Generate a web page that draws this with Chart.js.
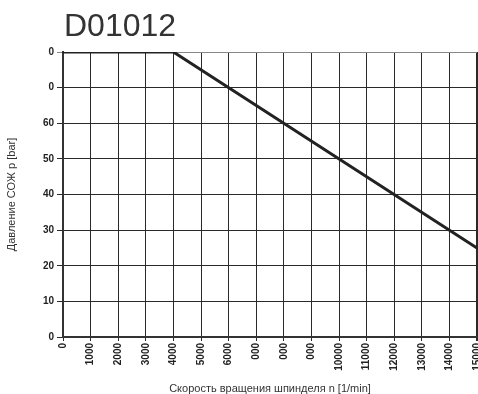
<!DOCTYPE html>
<html>
<head>
<meta charset="utf-8">
<script src="https://cdn.jsdelivr.net/npm/chart.js@4"></script>
<style>
  html, body { margin: 0; padding: 0; background: #fff; }
  #wrap { width: 478px; height: 394px; }
</style>
</head>
<body>
<div id="wrap"><canvas id="Chart1" width="478" height="394"></canvas></div>
<script>
// spindle speed (1/min) and coolant pressure (bar)
const speeds = [0, 4000, 15000];
const pressures = [80, 80, 25];

// tick labels as printed on the sheet
const xTickLabels = ['0', '1000', '2000', '3000', '4000', '5000', '6000', '000', '000', '000',
  '10000', '11000', '12000', '13000', '14000', '15000'];
const yTickLabels = ['0', '10', '20', '30', '40', '50', '60', '0', '0'];

const titleText = 'D01012';
const xTitle = 'Скорость вращения шпинделя n [1/min]';
const yTitle = 'Давление СОЖ p [bar]';

document.addEventListener("DOMContentLoaded", function () {
  const points = speeds.map((s, i) => ({ x: s, y: pressures[i] }));

  // big heading above the plot, left aligned with the plot area
  const headingPlugin = {
    id: 'heading',
    afterDraw(chart) {
      const ctx = chart.ctx;
      ctx.save();
      ctx.fillStyle = '#333';
      ctx.font = '32px "Liberation Sans", Arial, sans-serif';
      ctx.textBaseline = 'alphabetic';
      ctx.textAlign = 'left';
      ctx.fillText(titleText, chart.chartArea.left + 1, 36);
      ctx.restore();
    }
  };

  // no extra room for edge labels, the plot runs to the canvas edge
  const noEdgePadding = (scale) => {
    scale.paddingLeft = 0;
    scale.paddingRight = 0;
    scale.paddingTop = 0;
    scale.paddingBottom = 0;
  };

  const config1 = {
    type: 'line',
    data: {
      datasets: [{
        data: points,
        borderColor: '#222',
        borderWidth: 3,
        pointRadius: 0,
        fill: false,
        tension: 0
      }]
    },
    options: {
      responsive: false,
      animation: false,
      layout: {
        autoPadding: false,
        padding: { top: 52, left: 0, right: 1, bottom: 0 }
      },
      scales: {
        x: {
          type: 'linear',
          min: 0,
          max: 15000,
          afterFit: (scale) => { scale.height = 57; noEdgePadding(scale); },
          ticks: {
            stepSize: 1000,
            autoSkip: false,
            minRotation: 90,
            maxRotation: 90,
            padding: 2,
            color: '#222',
            font: { family: '"Liberation Sans", Arial, sans-serif', size: 10, weight: 'bold' },
            callback: (v, i) => xTickLabels[i]
          },
          grid: {
            color: '#2a2a2a',
            lineWidth: (c) => (c.index === 15 ? 2 : 1),
            tickLength: 4
          },
          border: { color: '#333', width: 2 },
          title: {
            display: true,
            text: xTitle,
            color: '#333',
            padding: { top: 0, bottom: -2 },
            font: { family: '"Liberation Sans", Arial, sans-serif', size: 11 }
          }
        },
        y: {
          min: 0,
          max: 80,
          afterFit: (scale) => { scale.width = 63; noEdgePadding(scale); },
          ticks: {
            stepSize: 10,
            padding: 3,
            color: '#222',
            font: { family: '"Liberation Sans", Arial, sans-serif', size: 10, weight: 'bold' },
            callback: (v, i) => yTickLabels[i]
          },
          grid: {
            color: (c) => (c.index === 8 ? '#888' : '#2a2a2a'),
            lineWidth: 1,
            tickLength: 6
          },
          border: { color: '#333', width: 2 },
          title: {
            display: true,
            text: yTitle,
            color: '#333',
            padding: { top: 5, bottom: 0 },
            font: { family: '"Liberation Sans", Arial, sans-serif', size: 11 }
          }
        }
      },
      plugins: {
        legend: { display: false },
        tooltip: { enabled: false }
      }
    },
    plugins: [headingPlugin]
  };

  var myChart1 = new Chart(document.getElementById('Chart1'), config1);
});
</script>
</body>
</html>
